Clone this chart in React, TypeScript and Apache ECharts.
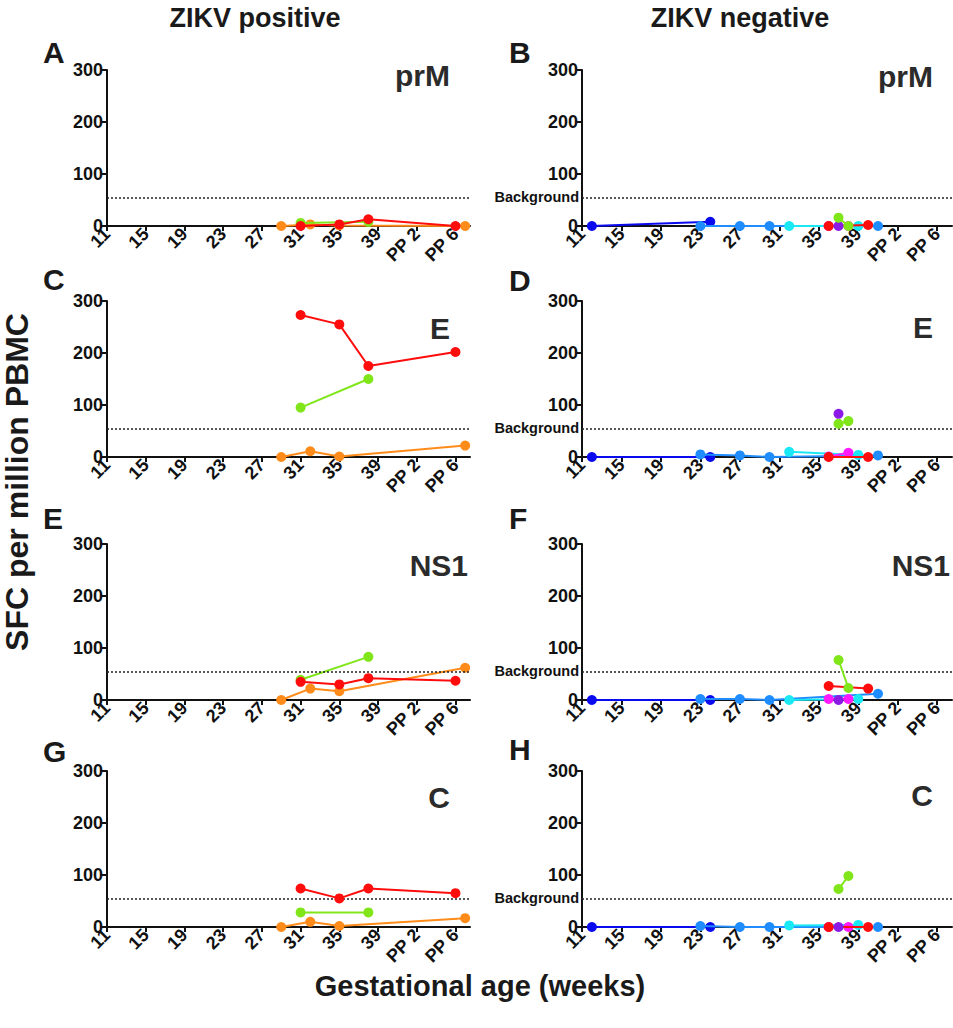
import React, { useEffect, useRef } from "react";
import * as echarts from "echarts";

// ---------- axis ticks ----------
const xTickValues = [11, 15, 19, 23, 27, 31, 35, 39, 43, 47];
const xTickLabels = ["11", "15", "19", "23", "27", "31", "35", "39", "PP 2", "PP 6"];
const yMax = 300;
const yInterval = 100;
const backgroundLevel = 55;

const panelLetters = ["A", "B", "C", "D", "E", "F", "G", "H"];
const antigens = ["prM", "prM", "E", "E", "NS1", "NS1", "C", "C"];
const columnTitles = ["ZIKV positive", "ZIKV negative"];

// ---------- ZIKV positive (left column) ----------
const posOrangeWeeks = [29, 32, 35, 48];
const posOrangePrM = [0, 3, 1, 0];
const posOrangeE = [0, 11, 1, 22];
const posOrangeNS1 = [0, 22, 17, 62];
const posOrangeC = [0, 10, 2, 17];

const posGreenWeeks = [31, 38];
const posGreenPrM = [6, 8];
const posGreenE = [95, 150];
const posGreenNS1 = [39, 83];
const posGreenC = [28, 28];

const posRedWeeks = [31, 35, 38, 47];
const posRedPrM = [0, 3, 13, 0];
const posRedE = [273, 255, 175, 202];
const posRedNS1 = [35, 30, 42, 37];
const posRedC = [74, 55, 74, 65];

// ---------- ZIKV negative (right column) ----------
const negDarkBlueWeeks = [12, 24];
const negDarkBluePrM = [0, 8];
const negDarkBlueE = [0, 0];
const negDarkBlueNS1 = [0, 0];
const negDarkBlueC = [0, 0];

const negLightBlueWeeks = [23, 27, 30, 41];
const negLightBluePrM = [0, 0, 0, 0];
const negLightBlueE = [5, 3, 0, 3];
const negLightBlueNS1 = [2, 2, 0, 12];
const negLightBlueC = [2, 0, 0, 0];

const negCyanWeeks = [32, 39];
const negCyanPrM = [0, 0];
const negCyanE = [10, 4];
const negCyanNS1 = [0, 2];
const negCyanC = [3, 4];

const negMagentaWeeks = [36, 38];
const negMagentaPrM = [0, 0];
const negMagentaE = [1, 8];
const negMagentaNS1 = [2, 2];
const negMagentaC = [0, 0];

const negRedWeeks = [36, 40];
const negRedPrM = [0, 2];
const negRedE = [0, 0];
const negRedNS1 = [27, 22];
const negRedC = [0, 0];

const negPurpleWeeks = [37];
const negPurplePrM = [0];
const negPurpleE = [83];
const negPurpleNS1 = [0];
const negPurpleC = [0];

const negGreenWeeks = [37, 38];
const negGreenPrM = [16, 0];
const negGreenE = [64, 69];
const negGreenNS1 = [77, 23];
const negGreenC = [73, 98];

const COLORS = {
  orange: "#ff8c1a",
  green: "#80e61a",
  red: "#ff0d0d",
  darkBlue: "#0a0aee",
  lightBlue: "#1f8cff",
  cyan: "#1ae8f5",
  magenta: "#ff1aff",
  purple: "#8c1ae6",
};

type Subject = { color: string; weeks: number[]; values: number[][] };

const positiveSubjects: Subject[] = [
  { color: COLORS.orange, weeks: posOrangeWeeks, values: [posOrangePrM, posOrangeE, posOrangeNS1, posOrangeC] },
  { color: COLORS.green, weeks: posGreenWeeks, values: [posGreenPrM, posGreenE, posGreenNS1, posGreenC] },
  { color: COLORS.red, weeks: posRedWeeks, values: [posRedPrM, posRedE, posRedNS1, posRedC] },
];

const negativeSubjects: Subject[] = [
  { color: COLORS.darkBlue, weeks: negDarkBlueWeeks, values: [negDarkBluePrM, negDarkBlueE, negDarkBlueNS1, negDarkBlueC] },
  { color: COLORS.lightBlue, weeks: negLightBlueWeeks, values: [negLightBluePrM, negLightBlueE, negLightBlueNS1, negLightBlueC] },
  { color: COLORS.cyan, weeks: negCyanWeeks, values: [negCyanPrM, negCyanE, negCyanNS1, negCyanC] },
  { color: COLORS.magenta, weeks: negMagentaWeeks, values: [negMagentaPrM, negMagentaE, negMagentaNS1, negMagentaC] },
  { color: COLORS.red, weeks: negRedWeeks, values: [negRedPrM, negRedE, negRedNS1, negRedC] },
  { color: COLORS.purple, weeks: negPurpleWeeks, values: [negPurplePrM, negPurpleE, negPurpleNS1, negPurpleC] },
  { color: COLORS.green, weeks: negGreenWeeks, values: [negGreenPrM, negGreenE, negGreenNS1, negGreenC] },
];

const FONT = "'Liberation Sans', Arial, Helvetica, sans-serif";

export default function App() {
  const ref = useRef<HTMLDivElement>(null);

  useEffect(() => {
    if (!ref.current) return;
    const chart = echarts.init(ref.current, undefined, { renderer: "svg" });

    const rowTops = [70, 301, 544, 771];
    const gridH = 156;
    const colLeft = [107, 582];
    const colWidth = [363, 370];

    const grids: any[] = [];
    const xAxes: any[] = [];
    const yAxes: any[] = [];
    const series: any[] = [];

    for (let p = 0; p < 8; p++) {
      const row = Math.floor(p / 2);
      const col = p % 2;
      grids.push({ left: colLeft[col], top: rowTops[row], width: colWidth[col], height: gridH });
      xAxes.push({
        gridIndex: p,
        type: "value",
        min: 11,
        max: 48.5,
        splitLine: { show: false },
        axisLine: { show: true, onZero: true, lineStyle: { color: "#111", width: 2 } },
        axisTick: { show: true, length: 5, lineStyle: { color: "#111", width: 2 }, customValues: xTickValues },
        axisLabel: {
          show: true,
          customValues: xTickValues,
          rotate: 45,
          margin: 5,
          fontSize: 18,
          fontWeight: "bold",
          fontFamily: FONT,
          color: "#111",
          formatter: (v: number) => {
            const i = xTickValues.indexOf(v);
            return i >= 0 ? xTickLabels[i] : "";
          },
        },
      });
      yAxes.push({
        gridIndex: p,
        type: "value",
        min: 0,
        max: yMax,
        interval: yInterval,
        splitLine: { show: false },
        axisLine: { show: true, lineStyle: { color: "#111", width: 2 } },
        axisTick: { show: true, length: 5, lineStyle: { color: "#111", width: 2 } },
        axisLabel: { fontSize: 18, fontWeight: "bold", fontFamily: FONT, color: "#111", margin: 4 },
      });

      // background line
      series.push({
        type: "line",
        xAxisIndex: p,
        yAxisIndex: p,
        data: [],
        silent: true,
        z: 1,
        markLine: {
          silent: true,
          symbol: "none",
          animation: false,
          lineStyle: { type: [2, 2], color: "#222", width: 1.5 },
          label:
            col === 1
              ? {
                  show: true,
                  position: "start",
                  formatter: "Background",
                  distance: 3,
                  fontSize: 14.5,
                  fontWeight: "bold",
                  fontFamily: FONT,
                  color: "#111",
                }
              : { show: false },
          data: [{ yAxis: backgroundLevel }],
        },
      });

      const subjects = col === 0 ? positiveSubjects : negativeSubjects;
      subjects.forEach((s, si) => {
        series.push({
          type: "line",
          xAxisIndex: p,
          yAxisIndex: p,
          data: s.weeks.map((w, k) => [w, s.values[row][k]]),
          symbol: "circle",
          symbolSize: 10,
          showAllSymbol: true,
          clip: false,
          z: 3 + si,
          lineStyle: { color: s.color, width: 2 },
          itemStyle: { color: s.color },
        });
      });
    }

    const letterPos = [
      [43, 52], [509, 52],
      [43, 279], [509, 280],
      [43, 518], [509, 518],
      [43, 751], [509, 749],
    ];
    const antigenPos = [
      [450, 75], [933, 76],
      [450, 328], [933, 327],
      [468, 565], [950, 565],
      [450, 797], [933, 795],
    ];

    const graphic: any[] = [];
    columnTitles.forEach((t, i) => {
      graphic.push({
        type: "text",
        x: i === 0 ? 255 : 740,
        y: 18,
        style: { text: t, fill: "#1a1a1a", font: `bold 27px ${FONT}`, textAlign: "center", textVerticalAlign: "middle" },
      });
    });
    panelLetters.forEach((l, i) => {
      graphic.push({
        type: "text",
        x: letterPos[i][0],
        y: letterPos[i][1],
        style: { text: l, fill: "#1a1a1a", font: `bold 30px ${FONT}`, textAlign: "left", textVerticalAlign: "middle" },
      });
    });
    antigens.forEach((a, i) => {
      graphic.push({
        type: "text",
        x: antigenPos[i][0],
        y: antigenPos[i][1],
        style: { text: a, fill: "#2b2b2b", font: `bold 30px ${FONT}`, textAlign: "right", textVerticalAlign: "middle" },
      });
    });
    graphic.push({
      type: "text",
      x: 17,
      y: 482,
      rotation: Math.PI / 2,
      style: { text: "SFC per million PBMC", fill: "#1a1a1a", font: `bold 32px ${FONT}`, textAlign: "center", textVerticalAlign: "middle" },
    });
    graphic.push({
      type: "text",
      x: 480,
      y: 986,
      style: { text: "Gestational age (weeks)", fill: "#1a1a1a", font: `bold 29px ${FONT}`, textAlign: "center", textVerticalAlign: "middle" },
    });

    chart.setOption({
      animation: false,
      backgroundColor: "#ffffff",
      grid: grids,
      xAxis: xAxes,
      yAxis: yAxes,
      series,
      graphic,
    });

    return () => chart.dispose();
  }, []);

  return (
    <div
      ref={ref}
      style={{ position: "absolute", left: 0, top: 0, width: 953, height: 1028 }}
    />
  );
}
